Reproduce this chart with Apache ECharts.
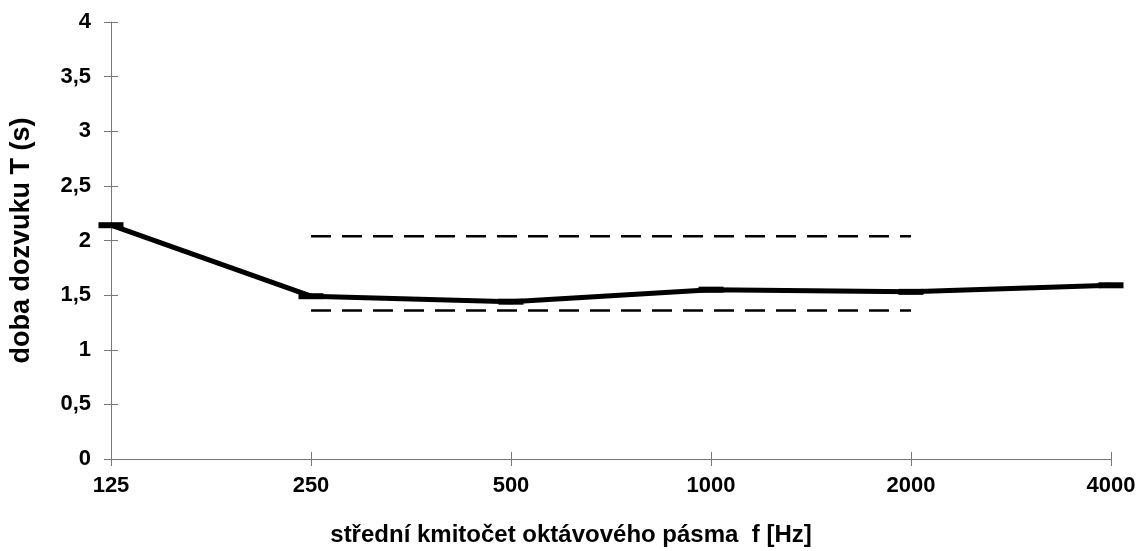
<!DOCTYPE html>
<html>
<head>
<meta charset="utf-8">
<script src="https://cdn.jsdelivr.net/npm/echarts@6/dist/echarts.min.js"></script>
<style>
  html, body { margin: 0; padding: 0; background: #fff; }
  #chart { width: 1140px; height: 551px; }
</style>
</head>
<body>
<div id="chart"></div>
<script>
const categories = ['125', '250', '500', '1000', '2000', '4000'];
const reverbTime = [2.14, 1.49, 1.44, 1.55, 1.53, 1.59];
const upperLimit = [null, 2.04, 2.04, 2.04, 2.04, null];
const lowerLimit = [null, 1.36, 1.36, 1.36, 1.36, null];

const chart = echarts.init(document.getElementById('chart'));
const font = 'Liberation Sans, Arial, sans-serif';
const axisColor = '#777';

const option = {
  animation: false,
  grid: { left: 111, right: 29, top: 22, bottom: 92, outerBoundsMode: 'none', containLabel: false },
  xAxis: [
    {
      type: 'category',
      data: categories,
      boundaryGap: false,
      name: 'střední kmitočet oktávového pásma  f [Hz]',
      nameLocation: 'middle',
      nameGap: 64,
      nameTextStyle: { fontFamily: font, fontWeight: 'bold', fontSize: 24, color: '#000', padding: [0, 80, 0, 0] },
      axisLine: { lineStyle: { color: axisColor, width: 1 } },
      axisTick: { length: 7, lineStyle: { color: axisColor } },
      axisLabel: { fontFamily: font, fontWeight: 'bold', fontSize: 22, color: '#000', margin: 16 },
      splitLine: { show: false }
    },
    {
      type: 'category',
      data: categories,
      boundaryGap: false,
      position: 'bottom',
      axisLine: { show: false },
      axisTick: { inside: true, length: 7, lineStyle: { color: axisColor } },
      axisLabel: { show: false },
      splitLine: { show: false }
    }
  ],
  yAxis: [
    {
      type: 'value',
      min: 0,
      max: 4,
      interval: 0.5,
      name: 'doba dozvuku T (s)',
      nameLocation: 'middle',
      nameGap: 76,
      nameTextStyle: { fontFamily: font, fontWeight: 'bold', fontSize: 27, color: '#000' },
      axisLine: { show: true, lineStyle: { color: axisColor, width: 1 } },
      axisTick: { show: true, length: 7, lineStyle: { color: axisColor } },
      axisLabel: {
        fontFamily: font, fontWeight: 'bold', fontSize: 22, color: '#000', margin: 20,
        formatter: v => String(v).replace('.', ',')
      },
      splitLine: { show: false }
    },
    {
      type: 'value',
      min: 0,
      max: 4,
      interval: 0.5,
      position: 'left',
      axisLine: { show: false },
      axisTick: { show: true, inside: true, length: 7, lineStyle: { color: axisColor } },
      axisLabel: { show: false },
      splitLine: { show: false }
    }
  ],
  series: [
    {
      type: 'line',
      data: upperLimit,
      symbol: 'none',
      lineStyle: { color: '#000', width: 2.5, type: [20, 11] },
      z: 2
    },
    {
      type: 'line',
      data: lowerLimit,
      symbol: 'none',
      lineStyle: { color: '#000', width: 2.5, type: [20, 11] },
      z: 2
    },
    {
      type: 'line',
      data: reverbTime,
      symbol: 'rect',
      symbolSize: [25, 6],
      showAllSymbol: true,
      itemStyle: { color: '#000' },
      lineStyle: { color: '#000', width: 5 },
      z: 3
    }
  ]
};
chart.setOption(option);
</script>
</body>
</html>
